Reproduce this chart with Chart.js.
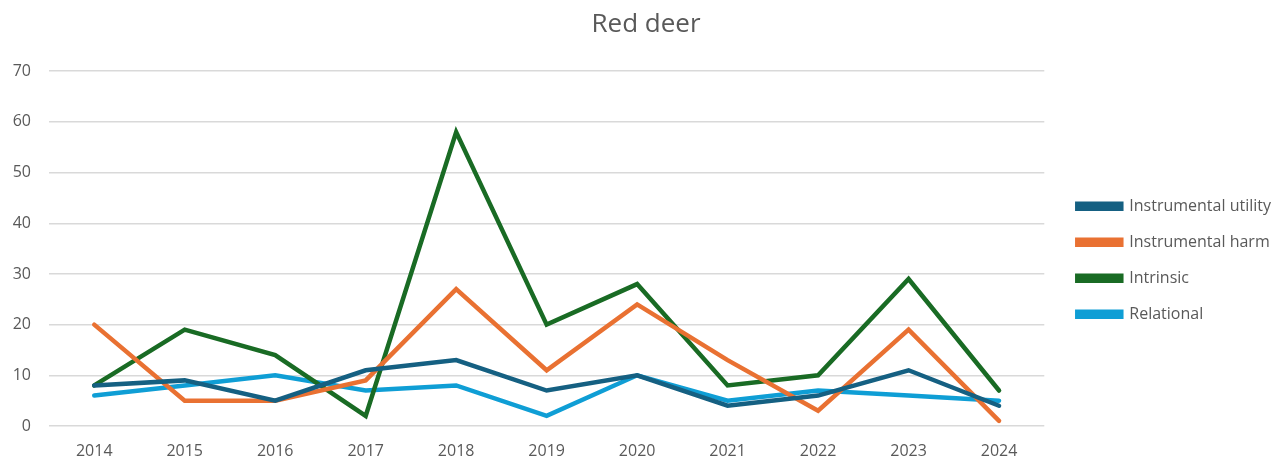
<!DOCTYPE html>
<html>
<head>
<meta charset="utf-8">
<script src="https://cdn.jsdelivr.net/npm/chart.js@4.4.1/dist/chart.umd.min.js"></script>
<style>
  html, body { margin: 0; padding: 0; background: #fff; }
  #wrap { width: 1285px; height: 461px; }
</style>
</head>
<body>
<div id="wrap"><canvas id="chart"></canvas></div>
<script>
const years = ["2014", "2015", "2016", "2017", "2018", "2019", "2020", "2021", "2022", "2023", "2024"];
const instrumentalUtility = [8, 9, 5, 11, 13, 7, 10, 4, 6, 11, 4];
const instrumentalHarm = [20, 5, 5, 9, 27, 11, 24, 13, 3, 19, 1];
const intrinsic = [8, 19, 14, 2, 58, 20, 28, 8, 10, 29, 7];
const relational = [6, 8, 10, 7, 8, 2, 10, 5, 7, 6, 5];

const grey = "#595959";
const font = "'Open Sans', Lato, sans-serif";

function line(label, data, color) {
    return {
        label: label,
        data: data,
        borderColor: color,
        backgroundColor: color,
        borderWidth: 4.5,
        pointRadius: 0,
        tension: 0,
        borderJoinStyle: "miter",
        borderCapStyle: "round"
    };
}

// push the legend a little further away from the plot, center the title on the page
const nudge = {
    id: "nudge",
    afterLayout(chart) {
        chart.legend.left += 13;
        chart.legend.right += 13;
        chart.titleBlock.left += 7;
        chart.titleBlock.right += 7;
    }
};

new Chart(document.getElementById("chart"), {
    type: "line",
    data: {
        labels: years,
        datasets: [
            line("Instrumental utility", instrumentalUtility, "#156082"),
            line("Instrumental harm", instrumentalHarm, "#E97132"),
            line("Intrinsic", intrinsic, "#196B24"),
            line("Relational", relational, "#0F9ED5")
        ]
    },
    plugins: [nudge],
    options: {
        responsive: true,
        maintainAspectRatio: false,
        animation: false,
        layout: { padding: { left: 10, right: 17, top: 9, bottom: 0 } },
        plugins: {
            title: {
                display: true,
                text: "Red deer",
                color: grey,
                font: { family: font, size: 26, weight: "normal" },
                padding: { top: 0, bottom: 31 }
            },
            legend: {
                position: "right",
                align: "center",
                title: { display: true, text: "", padding: { top: 0, bottom: 36 } },
                labels: {
                    color: grey,
                    font: { family: font, size: 16 },
                    boxWidth: 44,
                    boxHeight: 5,
                    padding: 20
                }
            },
            tooltip: { enabled: false }
        },
        scales: {
            x: {
                offset: true,
                grid: { display: false },
                border: { display: false },
                ticks: {
                    color: grey,
                    font: { family: font, size: 16 },
                    maxRotation: 0,
                    padding: 8
                },
                afterFit(scale) { scale.height = 35; }
            },
            y: {
                min: 0,
                max: 70,
                ticks: {
                    stepSize: 10,
                    color: grey,
                    font: { family: font, size: 16 },
                    padding: 18
                },
                grid: { color: "#d9d9d9", lineWidth: 1.5, drawTicks: false },
                border: { display: false },
                afterFit(scale) { scale.width = 39; }
            }
        }
    }
});
</script>
</body>
</html>
